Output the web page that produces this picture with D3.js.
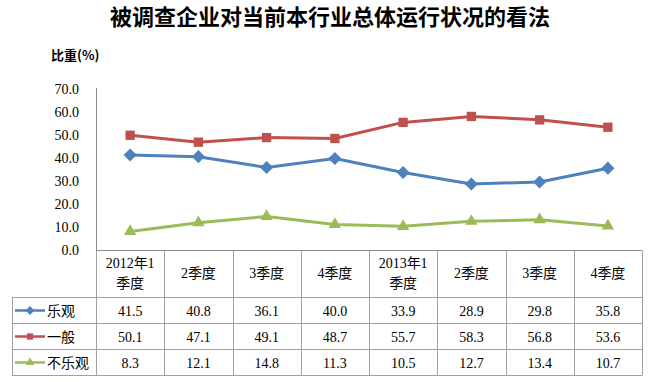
<!DOCTYPE html>
<html><head><meta charset="utf-8">
<script src="https://cdn.jsdelivr.net/npm/d3@7"></script>
<style>body{margin:0;background:#fff}svg{display:block}</style>
</head><body>
<svg id="c" width="650" height="381"></svg>
<script>
const title = "被调查企业对当前本行业总体运行状况的看法";
const yTitle = "比重(%)";
const categories = [["2012年1","季度"],["2季度"],["3季度"],["4季度"],["2013年1","季度"],["2季度"],["3季度"],["4季度"]];
const seriesNames = ["乐观","一般","不乐观"];
const optimistic = [41.5,40.8,36.1,40.0,33.9,28.9,29.8,35.8];
const neutral = [50.1,47.1,49.1,48.7,55.7,58.3,56.8,53.6];
const pessimistic = [8.3,12.1,14.8,11.3,10.5,12.7,13.4,10.7];
const yTicks = [0,10,20,30,40,50,60,70];

(function(){
const colors = ["#4F81BD","#C0504D","#9BBB59"];
const symbols = [d3.symbolDiamond2, d3.symbolSquare2, d3.symbolTriangle2];
const series = [optimistic, neutral, pessimistic];

const svg = d3.select("#c");
const serif = "'Liberation Serif','Noto Sans CJK SC',serif";
const cjk = "'Noto Sans CJK SC',sans-serif";

const pLeft = 96, pRight = 642, pTop = 89.5, pZero = 250.5;
const x = d3.scaleBand().domain(d3.range(categories.length)).range([pLeft, pRight]);
const y = d3.scaleLinear().domain([0,70]).range([pZero, pTop]);

svg.append("text").attr("x",330).attr("y",25).attr("text-anchor","middle")
  .attr("font-family",cjk).attr("font-weight","bold").attr("font-size",22).attr("fill","#000").text(title);
svg.append("text").attr("x",51).attr("y",60).attr("font-family",cjk).attr("font-weight","bold")
  .attr("font-size",13).attr("fill","#000").text(yTitle);

// y axis
const ya = svg.append("g").attr("transform",`translate(${pLeft},0)`)
  .call(d3.axisLeft(y).tickValues(yTicks).tickFormat(d3.format(".1f")).tickSize(0).tickPadding(17));
ya.select(".domain").attr("stroke","#8c8c8c").attr("d",`M0.5,${y(70)-1.5}V${pZero}`);
ya.selectAll("text").attr("font-family",serif).attr("font-size",14).attr("fill","#000");

// table
const rowTops = [250.5, 297.5, 323.5, 349.5, 375.5];
const tableLeft = 12;
const g = svg.append("g").attr("stroke","#a0a0a0").attr("stroke-width",1).attr("fill","none");
g.append("line").attr("x1",pLeft).attr("x2",pRight).attr("y1",rowTops[0]).attr("y2",rowTops[0]).attr("stroke","#8c8c8c");
rowTops.slice(1).forEach(t=>g.append("line").attr("x1",tableLeft).attr("x2",pRight).attr("y1",t).attr("y2",t));
g.append("line").attr("x1",tableLeft+0.5).attr("x2",tableLeft+0.5).attr("y1",rowTops[1]).attr("y2",rowTops[4]);
d3.range(categories.length+1).forEach(i=>{
  const xx = Math.round(pLeft + i*x.bandwidth()) + 0.5;
  g.append("line").attr("x1",xx).attr("x2",xx).attr("y1",rowTops[0]).attr("y2",rowTops[4]);
});

// header labels
categories.forEach((c,i)=>{
  const cx = x(i) + x.bandwidth()/2;
  const t = svg.append("text").attr("text-anchor","middle").attr("font-family",serif).attr("font-size",14).attr("fill","#000");
  if (c.length === 1) {
    t.append("tspan").attr("x",cx).attr("y",278).text(c[0]);
  } else {
    t.append("tspan").attr("x",cx).attr("y",268).text(c[0]);
    t.append("tspan").attr("x",cx).attr("y",288).text(c[1]);
  }
});

// data rows
series.forEach((vals,s)=>{
  const cy = (rowTops[s+1]+rowTops[s+2])/2;
  vals.forEach((v,i)=>{
    svg.append("text").attr("x",x(i)+x.bandwidth()/2).attr("y",cy+5).attr("text-anchor","middle")
      .attr("font-family",serif).attr("font-size",14).attr("fill","#000").text(d3.format(".1f")(v));
  });
  svg.append("line").attr("x1",15).attr("x2",45).attr("y1",cy).attr("y2",cy).attr("stroke",colors[s]).attr("stroke-width",2.5);
  svg.append("path").attr("d",d3.symbol(symbols[s], s===2?55:50)()).attr("transform",`translate(30,${cy})`).attr("fill",colors[s]);
  svg.append("text").attr("x",47).attr("y",cy+5).attr("font-family",cjk).attr("font-size",14).attr("fill","#000").text(seriesNames[s]);
});

// lines
const line = d3.line().x((d,i)=>x(i)+x.bandwidth()/2).y(d=>y(d));
series.forEach((vals,s)=>{
  svg.append("path").datum(vals).attr("d",line).attr("fill","none").attr("stroke",colors[s]).attr("stroke-width",3).attr("stroke-linejoin","round");
  svg.selectAll(null).data(vals).enter().append("path")
    .attr("d",d3.symbol(symbols[s], 110)())
    .attr("transform",(d,i)=>`translate(${x(i)+x.bandwidth()/2},${y(d)})`).attr("fill",colors[s]);
});
})();
</script>
</body></html>
